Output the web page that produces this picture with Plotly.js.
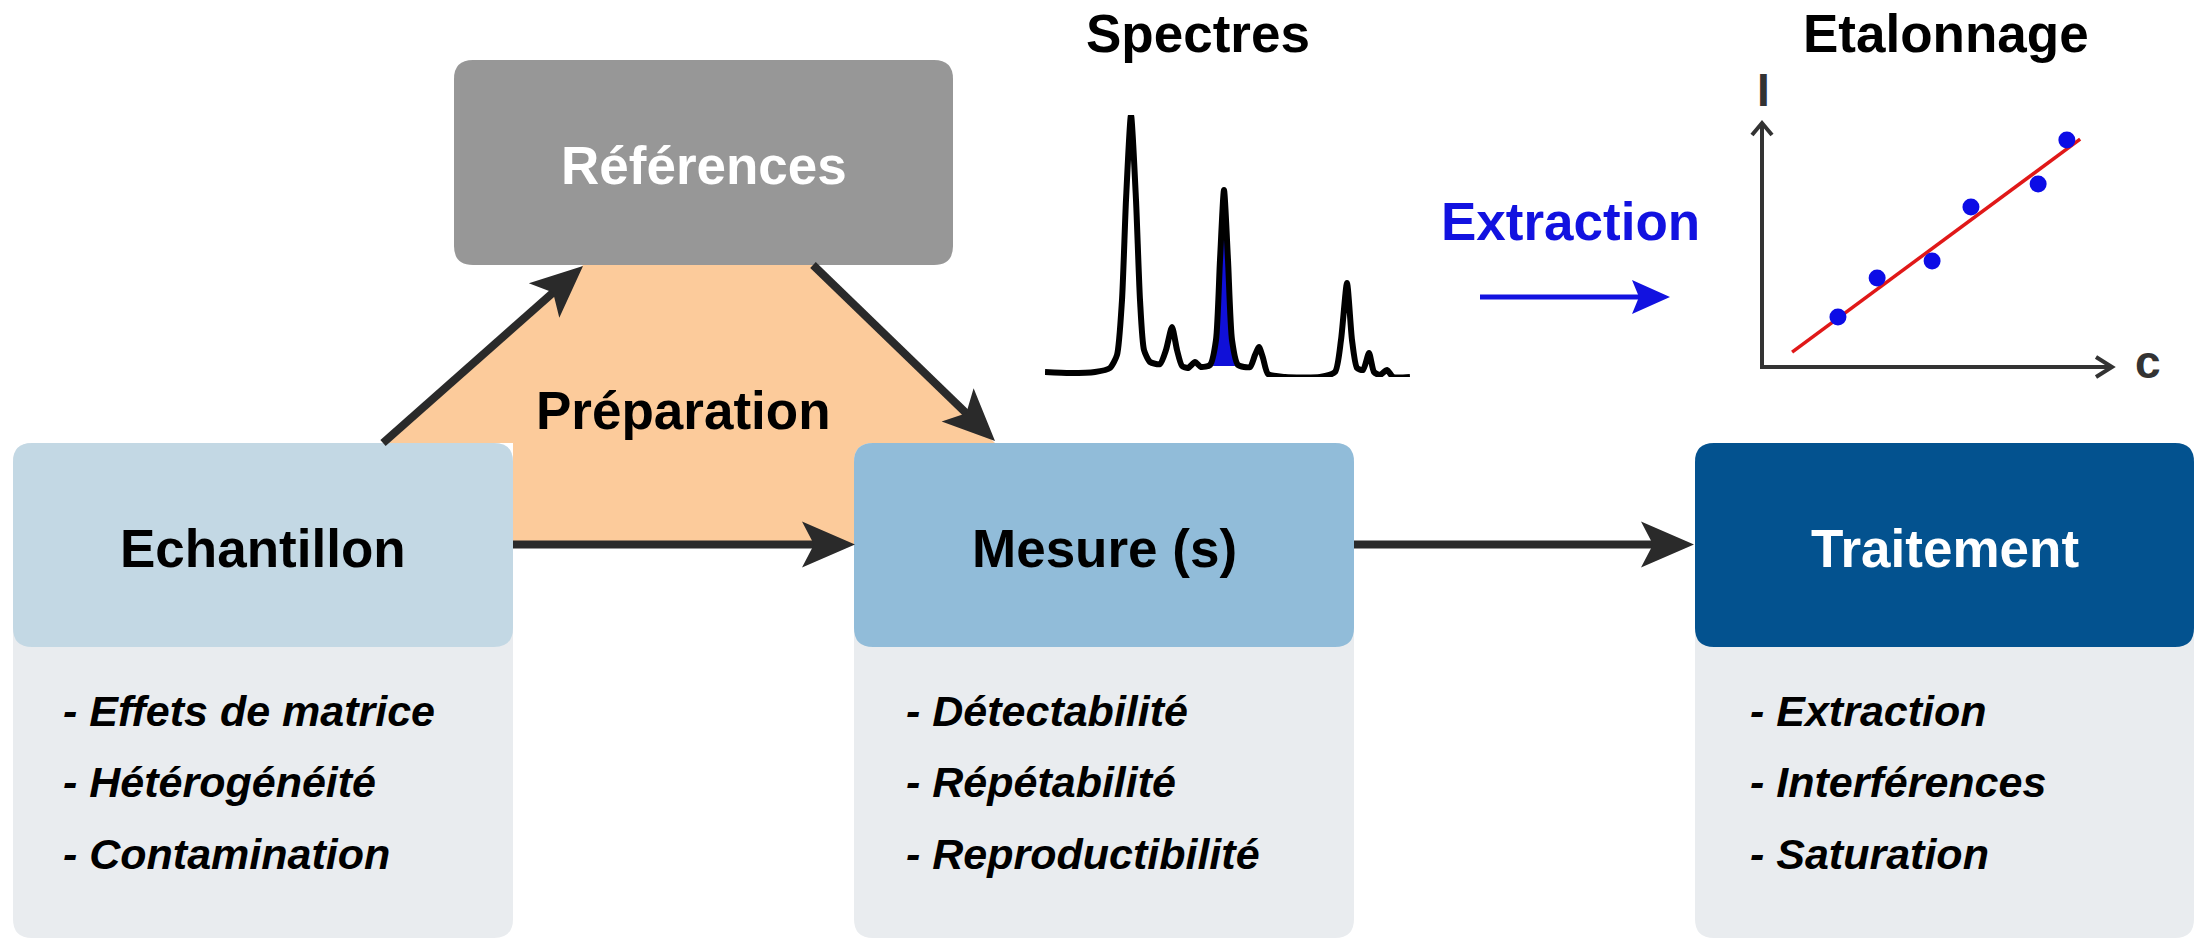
<!DOCTYPE html>
<html>
<head>
<meta charset="utf-8">
<script src="https://cdn.plot.ly/plotly-3.0.1.min.js"></script>
<style>html,body{margin:0;padding:0;background:#fff;}#chart{width:2205px;height:940px;}</style>
</head>
<body>
<div id="chart"></div>
<script>
// ---------------- DATA ----------------
const stepTitles = ['Echantillon', 'Mesure (s)', 'Traitement'];
const echantillonIssues = ['- Effets de matrice', '- Hétérogénéité', '- Contamination'];
const mesureIssues = ['- Détectabilité', '- Répétabilité', '- Reproductibilité'];
const traitementIssues = ['- Extraction', '- Interférences', '- Saturation'];
const referenceTitle = 'Références';
const preparationLabel = 'Préparation';
const panelTitles = ['Spectres', 'Etalonnage'];
const extractionLabel = 'Extraction';
const calibAxisLabels = ['c', 'I'];

// spectrum (position, intensity)
const spectrumPos = [0, 25, 50, 65, 72, 77, 81, 86, 91, 95, 99, 105, 115, 121, 127, 132, 137, 143, 150, 156, 165, 171, 175, 179, 183, 187, 193, 205, 210, 214, 218, 223, 240, 275, 290, 296, 302, 307, 312, 318, 324, 329, 335, 342, 348, 365];
const spectrumInt = [5, 4, 5, 9, 22, 77, 177, 262, 177, 77, 27, 15, 13, 27, 50, 27, 11, 9, 15, 10, 12, 37, 117, 187, 117, 37, 12, 10, 22, 30, 19, 3, 0, 0, 5, 37, 94, 37, 9, 7, 24, 5, 2, 7, 0, 0];
// highlighted (extracted) peak
const peakPos = [168, 171, 175, 179, 183, 187, 190];
const peakInt = [11, 37, 117, 180, 117, 37, 11];

// calibration points (concentration c, intensity I)
const calibC = [2.17, 3.29, 4.86, 5.97, 7.89, 8.71];
const calibI = [2.05, 3.65, 4.34, 6.56, 7.50, 9.30];
const fitC = [0.86, 9.09];
const fitI = [0.61, 9.34];

// ---------------- GEOMETRY / STYLE ----------------
const W = 2205, H = 940;
const FONT = 'Liberation Sans, Arial, Helvetica, sans-serif';
const boxGeom = [
  {x0: 13, x1: 513, head: '#c3d8e4', txt: '#000'},
  {x0: 854, x1: 1354, head: '#91bcd9', txt: '#000'},
  {x0: 1695, x1: 2194, head: '#03528f', txt: '#fff'}
];
const boxTop = 443, headBottom = 647, boxBottom = 938, radius = 19;
const bodyColor = '#e9ecef';
const refGeom = {x0: 454, x1: 953, y0: 60, y1: 265, color: '#979797'};
const orange = '#fccb9b';
const arrowColor = '#2a2a2a';
const TITLE_SIZE = 53;

function rrect(x0, y0, x1, y1, r) {
  return `M${x0 + r},${y0} L${x1 - r},${y0} Q${x1},${y0} ${x1},${y0 + r} L${x1},${y1 - r} Q${x1},${y1} ${x1 - r},${y1} L${x0 + r},${y1} Q${x0},${y1} ${x0},${y1 - r} L${x0},${y0 + r} Q${x0},${y0} ${x0 + r},${y0} Z`;
}

const shapes = [];
// orange preparation zone
shapes.push({type: 'path', xref: 'x', yref: 'y', line: {width: 0}, fillcolor: orange,
  path: 'M383,443 L583,265 L813,265 L995,443 L995,544 L513,544 L513,443 Z'});
// boxes
boxGeom.forEach(b => {
  shapes.push({type: 'path', xref: 'x', yref: 'y', line: {width: 0}, fillcolor: bodyColor,
    path: rrect(b.x0, boxTop, b.x1, boxBottom, radius)});
  shapes.push({type: 'path', xref: 'x', yref: 'y', line: {width: 0}, fillcolor: b.head,
    path: rrect(b.x0, boxTop, b.x1, headBottom, radius)});
});
shapes.push({type: 'path', xref: 'x', yref: 'y', line: {width: 0}, fillcolor: refGeom.color,
  path: rrect(refGeom.x0, refGeom.y0, refGeom.x1, refGeom.y1, radius)});

function arrow(sx, sy, tx, ty, color, lw, L, hw, notch) {
  const dx = tx - sx, dy = ty - sy, len = Math.hypot(dx, dy);
  const ux = dx / len, uy = dy / len, px = -uy, py = ux;
  const bx = tx - L * ux, by = ty - L * uy;
  const nx = tx - (L - notch) * ux, ny = ty - (L - notch) * uy;
  shapes.push({type: 'line', xref: 'x', yref: 'y', x0: sx, y0: sy, x1: nx + 2 * ux, y1: ny + 2 * uy,
    line: {color: color, width: lw}});
  shapes.push({type: 'path', xref: 'x', yref: 'y', line: {width: 0}, fillcolor: color,
    path: `M${tx},${ty} L${bx + hw * px},${by + hw * py} L${nx},${ny} L${bx - hw * px},${by - hw * py} Z`});
}
arrow(383, 443, 583, 266, arrowColor, 8, 52, 23, 12);
arrow(813, 265, 995, 441, arrowColor, 8, 52, 23, 12);
arrow(513, 544.5, 855, 544.5, arrowColor, 8, 53, 23, 12);
arrow(1354, 544.5, 1694, 544.5, arrowColor, 8, 53, 23, 12);
arrow(1480, 297, 1670, 297, '#1212e0', 5, 38, 17, 7);

// calibration axes with open arrow heads
const axC = '#333333';
shapes.push({type: 'path', xref: 'x', yref: 'y', line: {color: axC, width: 4}, fillcolor: 'rgba(0,0,0,0)',
  path: 'M1762,123 L1762,367 L2111,367'});
shapes.push({type: 'path', xref: 'x', yref: 'y', line: {color: axC, width: 4}, fillcolor: 'rgba(0,0,0,0)',
  path: 'M1752,135 L1762,123 L1772,135'});
shapes.push({type: 'path', xref: 'x', yref: 'y', line: {color: axC, width: 4}, fillcolor: 'rgba(0,0,0,0)',
  path: 'M2096,357 L2112,367 L2096,377'});

// ---------------- TEXT ----------------
const annotations = [];
function txt(x, y, text, size, color, opts) {
  annotations.push(Object.assign({xref: 'x', yref: 'y', x: x, y: y, text: text, showarrow: false,
    xanchor: 'center', yanchor: 'middle', font: {family: FONT, size: size, color: color}}, opts || {}));
}
stepTitles.forEach((t, i) => {
  const b = boxGeom[i];
  txt((b.x0 + b.x1) / 2, 548, '<b>' + t + '</b>', TITLE_SIZE, b.txt);
});
txt((refGeom.x0 + refGeom.x1) / 2, 165, '<b>' + referenceTitle + '</b>', TITLE_SIZE, '#ffffff');
txt(683, 410, '<b>' + preparationLabel + '</b>', TITLE_SIZE, '#000');
txt(1198, 33, '<b>' + panelTitles[0] + '</b>', TITLE_SIZE, '#000');
txt(1946, 33, '<b>' + panelTitles[1] + '</b>', TITLE_SIZE, '#000');
txt(1570, 221, '<b>' + extractionLabel + '</b>', TITLE_SIZE, '#1212e0');
txt(1763, 90, '<b>' + calibAxisLabels[1] + '</b>', 46, axC);
txt(2148, 362, '<b>' + calibAxisLabels[0] + '</b>', 46, axC);

const issueLists = [echantillonIssues, mesureIssues, traitementIssues];
const listX = [61, 904, 1748];
const listY = [711, 782, 854];
issueLists.forEach((lst, i) => {
  lst.forEach((t, j) => {
    txt(listX[i], listY[j], '<b><i>' + t + '</i></b>', 43, '#000', {xanchor: 'left'});
  });
});

// ---------------- TRACES ----------------
const traces = [
  {x: peakPos, y: peakInt, xaxis: 'x3', yaxis: 'y3', type: 'scatter', mode: 'lines',
    fill: 'toself', fillcolor: '#1010d8', line: {width: 0, color: '#1010d8'}, hoverinfo: 'skip', cliponaxis: false},
  {x: spectrumPos, y: spectrumInt, xaxis: 'x3', yaxis: 'y3', type: 'scatter', mode: 'lines',
    line: {color: '#000', width: 6, shape: 'spline', smoothing: 0.6}, cliponaxis: false},
  {x: fitC, y: fitI, xaxis: 'x2', yaxis: 'y2', type: 'scatter', mode: 'lines',
    line: {color: '#e01818', width: 3.5}, cliponaxis: false},
  {x: calibC, y: calibI, xaxis: 'x2', yaxis: 'y2', type: 'scatter', mode: 'markers',
    marker: {color: '#0c0ce6', size: 17}, cliponaxis: false}
];

const hidden = {showgrid: false, zeroline: false, showticklabels: false, showline: false, ticks: '', fixedrange: true};
const layout = {
  width: W, height: H,
  margin: {l: 0, r: 0, t: 0, b: 0, pad: 0},
  paper_bgcolor: '#ffffff', plot_bgcolor: 'rgba(0,0,0,0)',
  showlegend: false,
  xaxis: Object.assign({range: [0, W], domain: [0, 1]}, hidden),
  yaxis: Object.assign({range: [H, 0], domain: [0, 1]}, hidden),
  xaxis2: Object.assign({range: [0, 10], domain: [1762 / W, 2112 / W], anchor: 'y2'}, hidden),
  yaxis2: Object.assign({range: [0, 10], domain: [1 - 367 / H, 1 - 123 / H], anchor: 'x2'}, hidden),
  xaxis3: Object.assign({range: [0, 365], domain: [1045 / W, 1410 / W], anchor: 'y3'}, hidden),
  yaxis3: Object.assign({range: [0, 262], domain: [1 - 377 / H, 1 - 115 / H], anchor: 'x3'}, hidden),
  shapes: shapes,
  annotations: annotations
};
Plotly.newPlot('chart', traces, layout, {staticPlot: true, displayModeBar: false});
</script>
</body>
</html>
